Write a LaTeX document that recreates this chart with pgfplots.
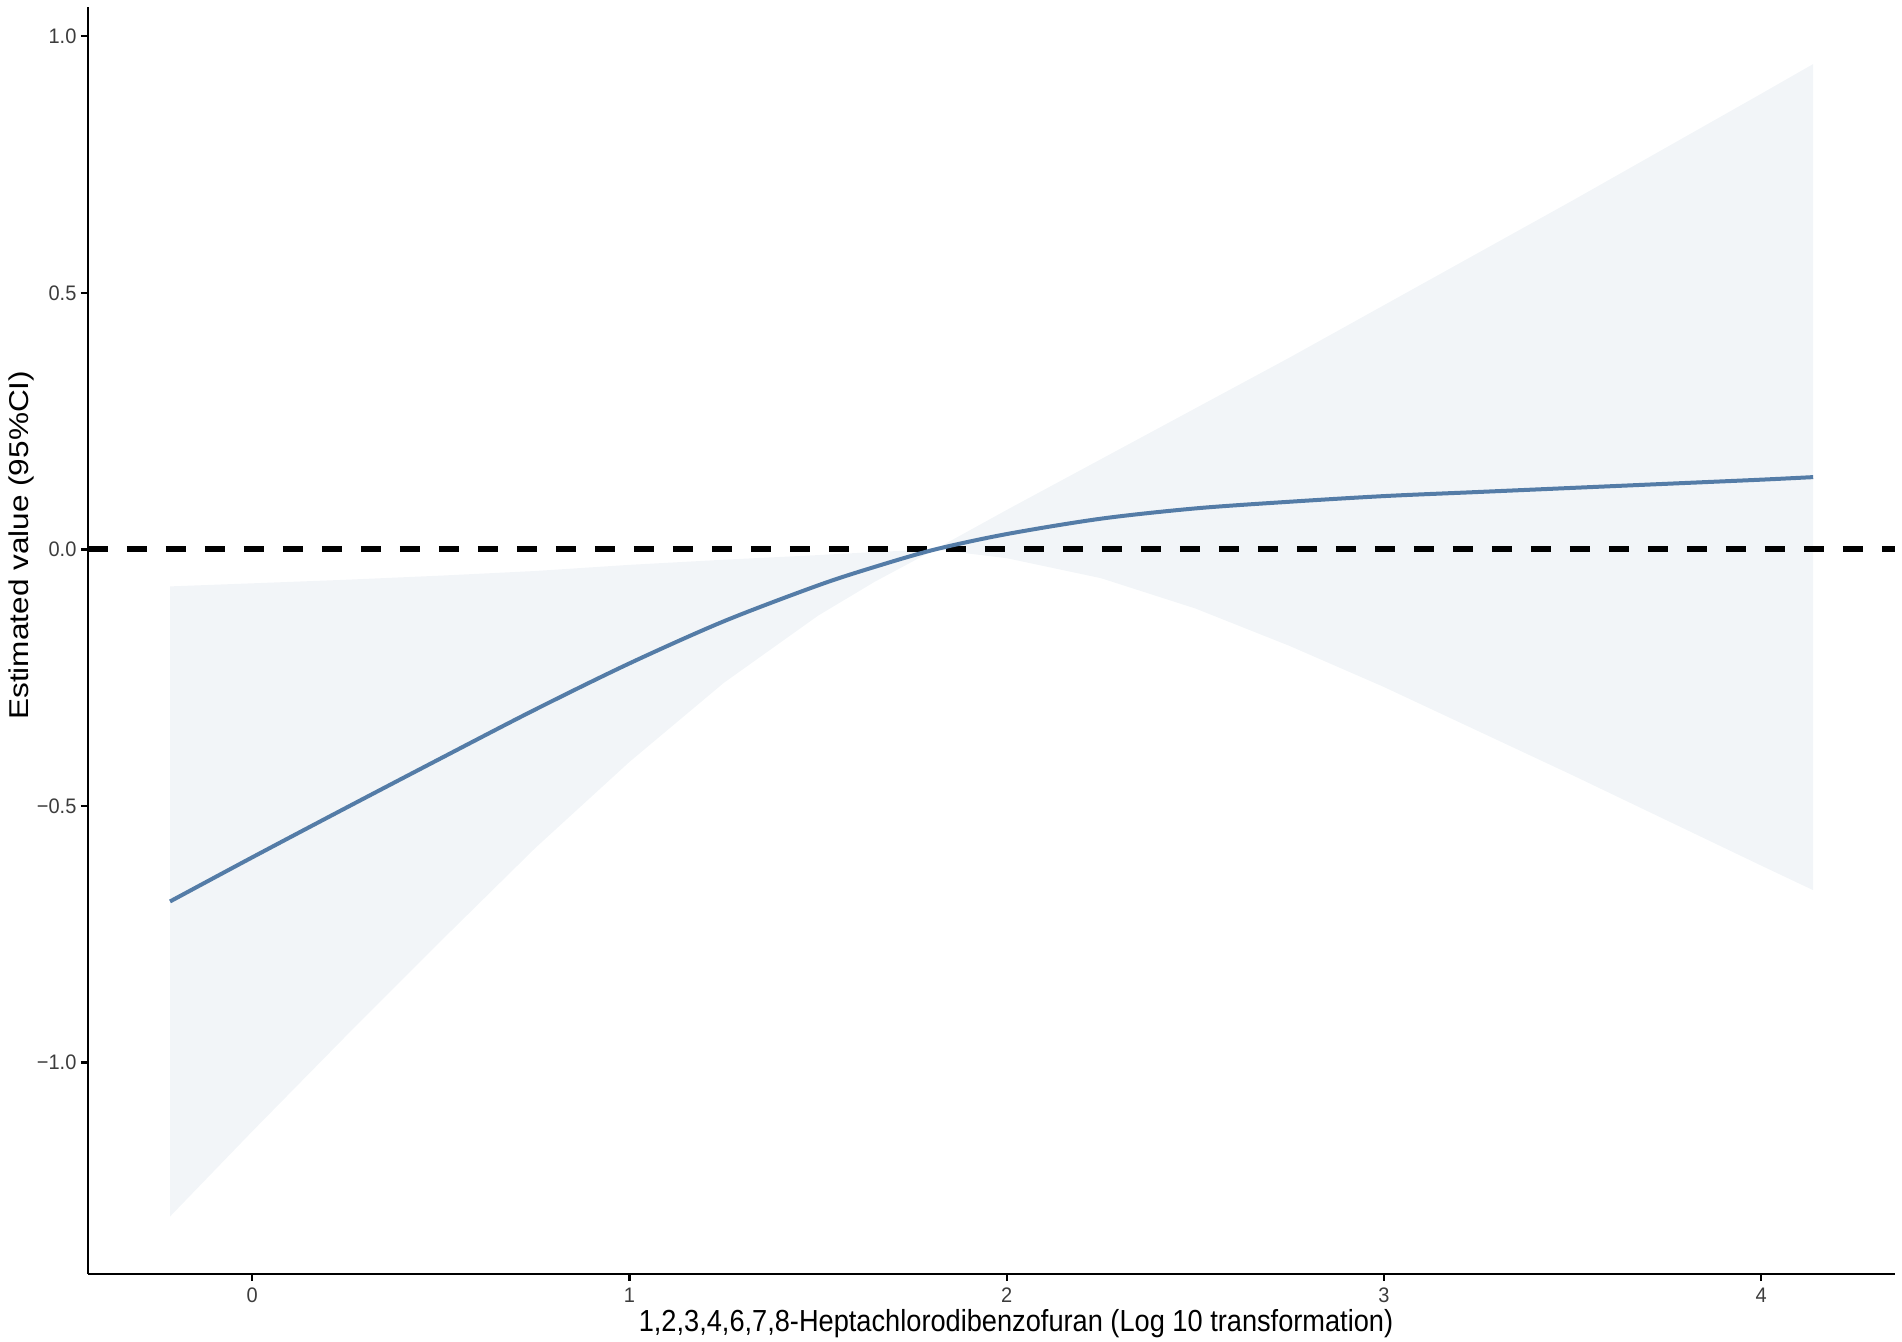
\documentclass[border=0pt]{standalone}
\usepackage{fontspec}
\setmainfont{Liberation Sans}
\usepackage{pgfplots}
\usepackage{pgfplotstable}
\pgfplotsset{compat=1.18}
\usepgfplotslibrary{fillbetween}

\definecolor{fitline}{RGB}{84,124,167}
\definecolor{ciband}{RGB}{242,245,248}
\definecolor{ticktxt}{RGB}{60,60,60}

% estimate and 95% CI
\pgfplotstableread{
x      est     lo      hi
-0.218 -0.686 -1.300 -0.072
0.00   -0.600 -1.134 -0.066
0.25   -0.503 -0.947 -0.059
0.50   -0.407 -0.763 -0.051
0.75   -0.312 -0.582 -0.042
1.00   -0.222 -0.414 -0.030
1.25   -0.140 -0.260 -0.020
1.50   -0.070 -0.129 -0.011
1.65   -0.034 -0.063 -0.005
1.81    0.000  0.000  0.000
2.00    0.030 -0.017  0.077
2.25    0.060 -0.056  0.176
2.50    0.080 -0.115  0.275
2.75    0.093 -0.188  0.374
3.00    0.104 -0.268  0.476
3.25    0.112 -0.354  0.578
3.50    0.120 -0.440  0.680
3.75    0.128 -0.528  0.784
4.00    0.136 -0.616  0.888
4.138   0.141 -0.664  0.946
}\rcs

\begin{document}
\begin{tikzpicture}
\begin{axis}[
  name=main, at={(0,0)}, anchor=south west,
  width=903.8pt, height=633.7pt, scale only axis,
  xmin=-0.436, xmax=4.356, ymin=-1.412, ymax=1.058,
  axis x line*=bottom, axis y line*=left,
  axis line style={line width=1.15pt, black},
  every tick/.style={line width=1.15pt, black},
  tick align=outside, major tick length=3.5pt,
  xtick={0,1,2,3,4}, xticklabels={0,1,2,3,4},
  ytick={-1,-0.5,0,0.5,1}, yticklabels={−1.0,−0.5,0.0,0.5,1.0},
  tick label style={font=\fontsize{10}{12}\selectfont, text=ticktxt, yscale=1.05},
  xticklabel style={inner sep=2pt, yshift=-1pt},
  yticklabel style={inner sep=2pt},
  xlabel={1,2,3,4,6,7,8-Heptachlorodibenzofuran (Log 10 transformation)},
  ylabel={Estimated value (95\%CI)},
  label style={font=\fontsize{13.6}{16}\selectfont},
  x label style={at={(axis description cs:0.5135,-0.045)}, anchor=base, yscale=1.12},
  y label style={at={(axis description cs:-0.0366,0.575)}, anchor=center, xscale=1.16},
  clip=false,
]
\addplot[name path=hi, draw=none] table[x=x, y=hi]{\rcs};
\addplot[name path=lo, draw=none] table[x=x, y=lo]{\rcs};
\addplot[ciband, draw=none] fill between[of=hi and lo];
\addplot[black, line width=3pt, dash pattern=on 10pt off 9.5pt] coordinates {(-0.436,0) (4.356,0)};
\addplot[fitline, line width=2pt, smooth, tension=0.5, mark=none] table[x=x, y=est]{\rcs};
\end{axis}
\pgfresetboundingbox
\path[use as bounding box] (-43.9pt,-34pt) rectangle (907.1pt,637pt);
\end{tikzpicture}
\end{document}
